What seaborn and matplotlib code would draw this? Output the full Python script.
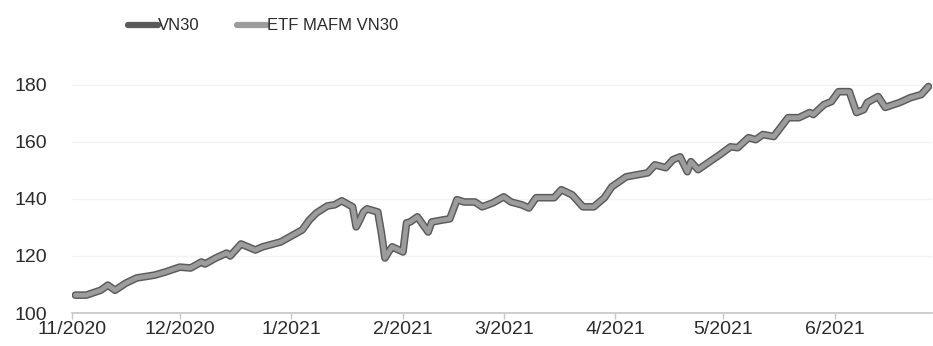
import pandas as pd
import numpy as np
import seaborn as sns
import matplotlib.pyplot as plt
import matplotlib.dates as mdates

# values (index, start = 100)
dates = ["2020-11-02", "2020-11-05", "2020-11-09", "2020-11-11", "2020-11-13", "2020-11-16",
         "2020-11-19", "2020-11-24", "2020-11-27", "2020-12-01", "2020-12-04", "2020-12-07",
         "2020-12-08", "2020-12-11", "2020-12-14", "2020-12-15", "2020-12-18", "2020-12-22",
         "2020-12-24", "2020-12-29", "2020-12-31", "2021-01-04", "2021-01-06", "2021-01-08",
         "2021-01-11", "2021-01-13", "2021-01-15", "2021-01-18", "2021-01-19", "2021-01-20",
         "2021-01-21", "2021-01-22", "2021-01-25", "2021-01-26", "2021-01-27", "2021-01-28",
         "2021-01-29", "2021-02-01", "2021-02-02", "2021-02-03", "2021-02-05", "2021-02-08",
         "2021-02-09", "2021-02-12", "2021-02-14", "2021-02-16", "2021-02-18", "2021-02-21",
         "2021-02-23", "2021-02-26", "2021-03-01", "2021-03-03", "2021-03-06", "2021-03-08",
         "2021-03-10", "2021-03-15", "2021-03-17", "2021-03-20", "2021-03-23", "2021-03-26",
         "2021-03-29", "2021-03-31", "2021-04-04", "2021-04-07", "2021-04-10", "2021-04-12",
         "2021-04-15", "2021-04-17", "2021-04-19", "2021-04-21", "2021-04-22", "2021-04-24",
         "2021-04-28", "2021-04-30", "2021-05-03", "2021-05-05", "2021-05-08", "2021-05-10",
         "2021-05-12", "2021-05-15", "2021-05-19", "2021-05-22", "2021-05-25", "2021-05-26",
         "2021-05-29", "2021-05-31", "2021-06-02", "2021-06-05", "2021-06-07", "2021-06-09",
         "2021-06-10", "2021-06-13", "2021-06-15", "2021-06-19", "2021-06-22", "2021-06-25",
         "2021-06-27"]

vn30 = [106.3, 106.3, 108.0, 109.8, 108.0, 110.5, 112.3, 113.3, 114.4, 116.1, 115.8, 117.9,
        117.2, 119.3, 121.0, 120.0, 124.2, 122.1, 123.2, 124.9, 126.3, 129.1, 132.6, 135.1,
        137.5, 137.9, 139.3, 137.2, 130.2, 132.6, 135.4, 136.5, 135.4, 128.1, 119.3, 121.4,
        123.2, 121.4, 131.6, 131.9, 133.7, 128.4, 131.9, 132.6, 133.0, 139.7, 138.9, 138.9,
        137.2, 138.6, 140.7, 138.9, 137.9, 136.8, 140.4, 140.4, 143.2, 141.4, 137.2, 137.2,
        140.4, 144.2, 147.7, 148.4, 149.1, 151.9, 150.9, 153.7, 154.7, 149.5, 153.0, 150.2,
        153.7, 155.4, 158.2, 157.9, 161.4, 160.7, 162.5, 161.8, 168.4, 168.4, 170.2, 169.5,
        173.0, 174.0, 177.5, 177.5, 170.2, 171.2, 173.7, 175.8, 172.0, 173.7, 175.4, 176.5,
        179.3]

# the ETF tracks the index so closely that the two lines can't be told apart
etf = [106.3, 106.3, 108.0, 109.8, 108.0, 110.5, 112.3, 113.3, 114.4, 116.1, 115.8, 117.9,
       117.2, 119.3, 121.0, 120.0, 124.2, 122.1, 123.2, 124.9, 126.3, 129.1, 132.6, 135.1,
       137.5, 137.9, 139.3, 137.2, 130.2, 132.6, 135.4, 136.5, 135.4, 128.1, 119.3, 121.4,
       123.2, 121.4, 131.6, 131.9, 133.7, 128.4, 131.9, 132.6, 133.0, 139.7, 138.9, 138.9,
       137.2, 138.6, 140.7, 138.9, 137.9, 136.8, 140.4, 140.4, 143.2, 141.4, 137.2, 137.2,
       140.4, 144.2, 147.7, 148.4, 149.1, 151.9, 150.9, 153.7, 154.7, 149.5, 153.0, 150.2,
       153.7, 155.4, 158.2, 157.9, 161.4, 160.7, 162.5, 161.8, 168.4, 168.4, 170.2, 169.5,
       173.0, 174.0, 177.5, 177.5, 170.2, 171.2, 173.7, 175.8, 172.0, 173.7, 175.4, 176.5,
       179.3]

series_names = ["VN30", "ETF MAFM VN30"]
yticks = [100, 120, 140, 160, 180]

df = pd.concat([
    pd.DataFrame({"date": pd.to_datetime(dates), "value": vn30, "series": series_names[0]}),
    pd.DataFrame({"date": pd.to_datetime(dates), "value": etf, "series": series_names[1]}),
])

sns.set_theme(style="white")
plt.rcParams['font.family'] = ['Liberation Sans', 'DejaVu Sans']

fig = plt.figure(figsize=(9.33, 3.46), dpi=100)
ax = fig.add_axes([0.077, 0.095, 0.922, 0.735])

sns.lineplot(data=df, x="date", y="value", hue="series", palette=["#5a5a5a", "#9c9c9c"],
             ax=ax, legend=False, estimator=None)
lines = ax.get_lines()
lines[0].set_linewidth(5.5)
lines[1].set_linewidth(3.4)
for ln in lines:
    ln.set_solid_joinstyle("round")

ax.set_xlim(pd.Timestamp("2020-11-01"), pd.Timestamp("2021-06-28"))
ax.set_ylim(100, 189)
ax.set_yticks(yticks)
ax.xaxis.set_major_locator(mdates.MonthLocator())
ax.xaxis.set_major_formatter(mdates.DateFormatter("%-m/%Y"))
ax.set_xlabel("")
ax.set_ylabel("")

ax.grid(axis="y", color="#f3f3f3", linewidth=1)
for s in ["top", "right", "left"]:
    ax.spines[s].set_visible(False)
ax.spines["bottom"].set_color("#c8c8c8")
ax.tick_params(axis="x", colors="#c8c8c8", labelcolor="#2b2b2b", labelsize=14,
               length=4, width=1, pad=2, bottom=True, direction="out")
ax.tick_params(axis="y", labelcolor="#2b2b2b", labelsize=14, length=0, pad=18)

handles = [plt.Line2D([], [], color="#5a5a5a", lw=4.5),
           plt.Line2D([], [], color="#9c9c9c", lw=4.5)]
fig.legend(handles, series_names, loc="center", bbox_to_anchor=(0.282, 0.925), ncol=2,
           frameon=False, fontsize=12, handlelength=1.8, handletextpad=0.05,
           columnspacing=2.2, labelcolor="#2b2b2b")

fig.savefig("out.png", dpi=100)
